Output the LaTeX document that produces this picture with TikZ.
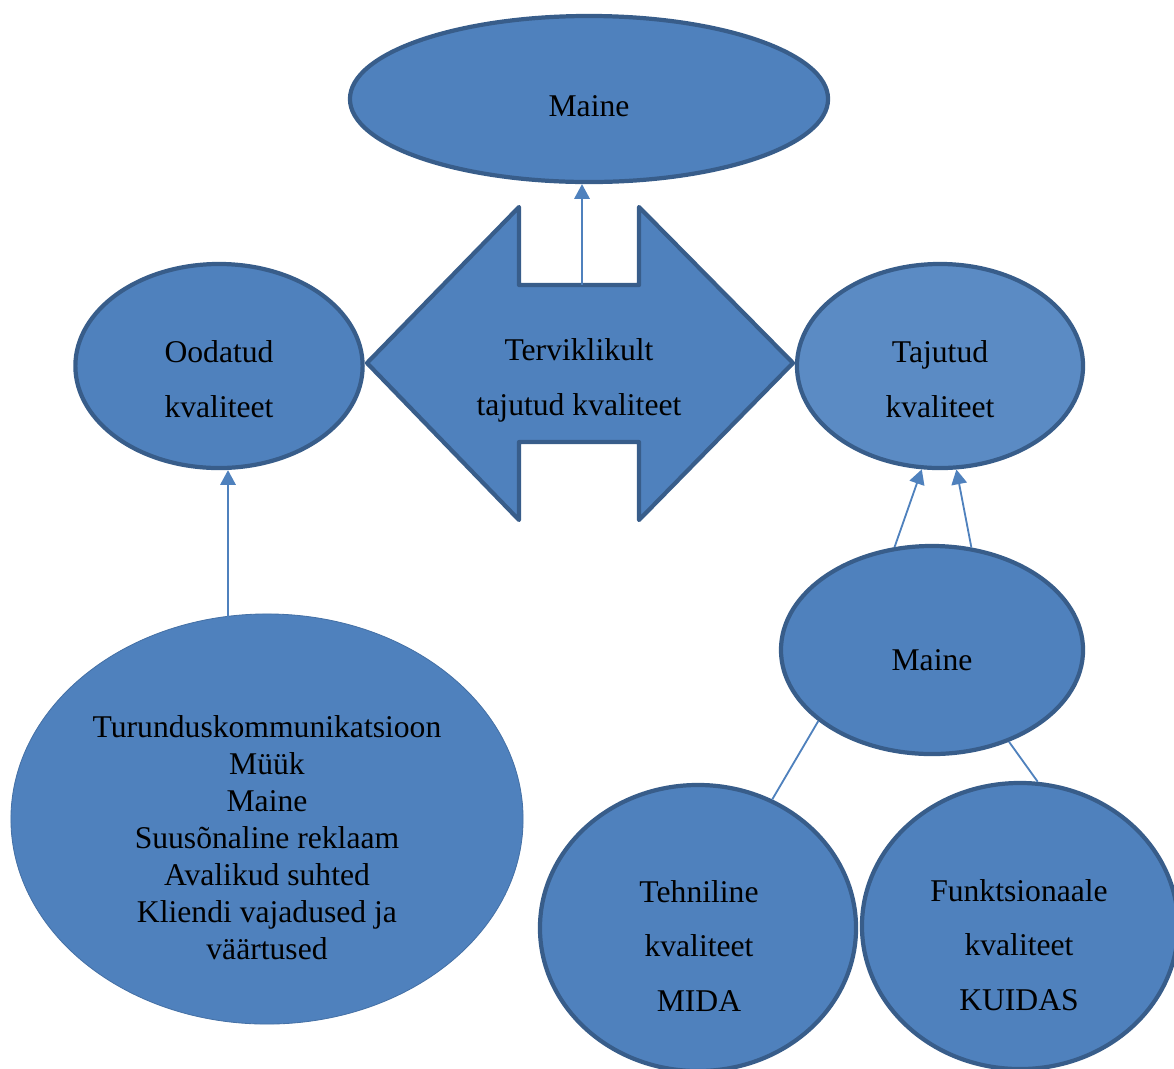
\documentclass[tikz,border=0pt]{standalone}
\usepackage{fontspec}
\setmainfont{Liberation Serif}
\usetikzlibrary{shapes.geometric,arrows.meta}
\definecolor{boxfill}{HTML}{4F81BD}
\definecolor{boxline}{HTML}{385D8A}
\definecolor{lightfill}{HTML}{5B8BC4}
\tikzset{
  oval/.style={ellipse,draw=boxline,fill=boxfill,line width=3pt,inner sep=0pt},
  lbl/.style={align=center,font=\fontsize{22.5}{39}\selectfont},
  link/.style={draw=boxfill,line width=1.3pt},
  up/.style={link,-{Triangle[length=10.5pt,width=11pt]}}
}
\begin{document}
\begin{tikzpicture}[x=0.025cm,y=-0.025cm]
  \useasboundingbox (0,0) rectangle (1174,1068);
  % middle double arrow
  \draw [boxline,fill=boxfill,line width=3pt,line join=round]
    (367,363) -- (519,207) -- (519,285) -- (639,285) -- (639,207) -- (793,363)
    -- (639,520) -- (639,442) -- (519,442) -- (519,520) -- cycle;
  \coordinate (notch) at (582,285);
  % ovals
  \node [oval,minimum width=11.95cm,minimum height=4.15cm] (maine) at (589,99) {};
  \node [oval,minimum width=7.18cm,minimum height=5.1cm] (oodatud) at (219,366) {};
  \node [oval,fill=lightfill,minimum width=7.15cm,minimum height=5.1cm] (tajutud) at (940,366) {};
  \node [oval,draw=boxline!45!boxfill,line width=0.6pt,minimum width=12.8cm,minimum height=10.25cm] (turundus) at (267,819) {};
  \node [oval,minimum width=7.55cm,minimum height=5.2cm] (maine2) at (932,650) {};
  \node [oval,minimum width=7.9cm,minimum height=7.15cm] (tehn) at (698,928) {};
  \node [oval,minimum width=7.9cm,minimum height=7.15cm] (funkt) at (1020,926) {};
  % texts
  \node [lbl] (maine-t) at (589,106) {Maine};
  \node [lbl] (oodatud-t) at (219,379) {Oodatud\\kvaliteet};
  \node [lbl] (tervik-t) at (579,380) {Terviklikult\\tajutud kvaliteet};
  \node [lbl] (tajutud-t) at (940,379) {Tajutud\\kvaliteet};
  \node [lbl,font=\fontsize{22.5}{26.3}\selectfont] (turundus-t) at (267,838)
    {Turunduskommunikatsioon\\Müük\\Maine\\Suusõnaline reklaam\\Avalikud suhted\\Kliendi vajadused ja\\väärtused};
  \node [lbl] (maine2-t) at (932,660) {Maine};
  \node [lbl] (tehn-t) at (699,946) {Tehniline\\kvaliteet\\MIDA};
  \node [lbl] (funkt-t) at (1019,945) {Funktsionaale\\kvaliteet\\KUIDAS};
  % connectors
  \draw [up] (notch) -- (notch |- maine.south);
  \coordinate (k1) at (228,640);
  \draw [up] (k1) -- (k1 |- oodatud.south);
  \draw [up] (maine2.110.8) -- (tajutud.260.1);
  \draw [up] (maine2.69.2) -- (tajutud.279.4);
  \draw [link] (maine2.212.8) -- (tehn.60.5);
  \draw [link] (maine2.310.6) -- (funkt.83.7);
\end{tikzpicture}
\end{document}
